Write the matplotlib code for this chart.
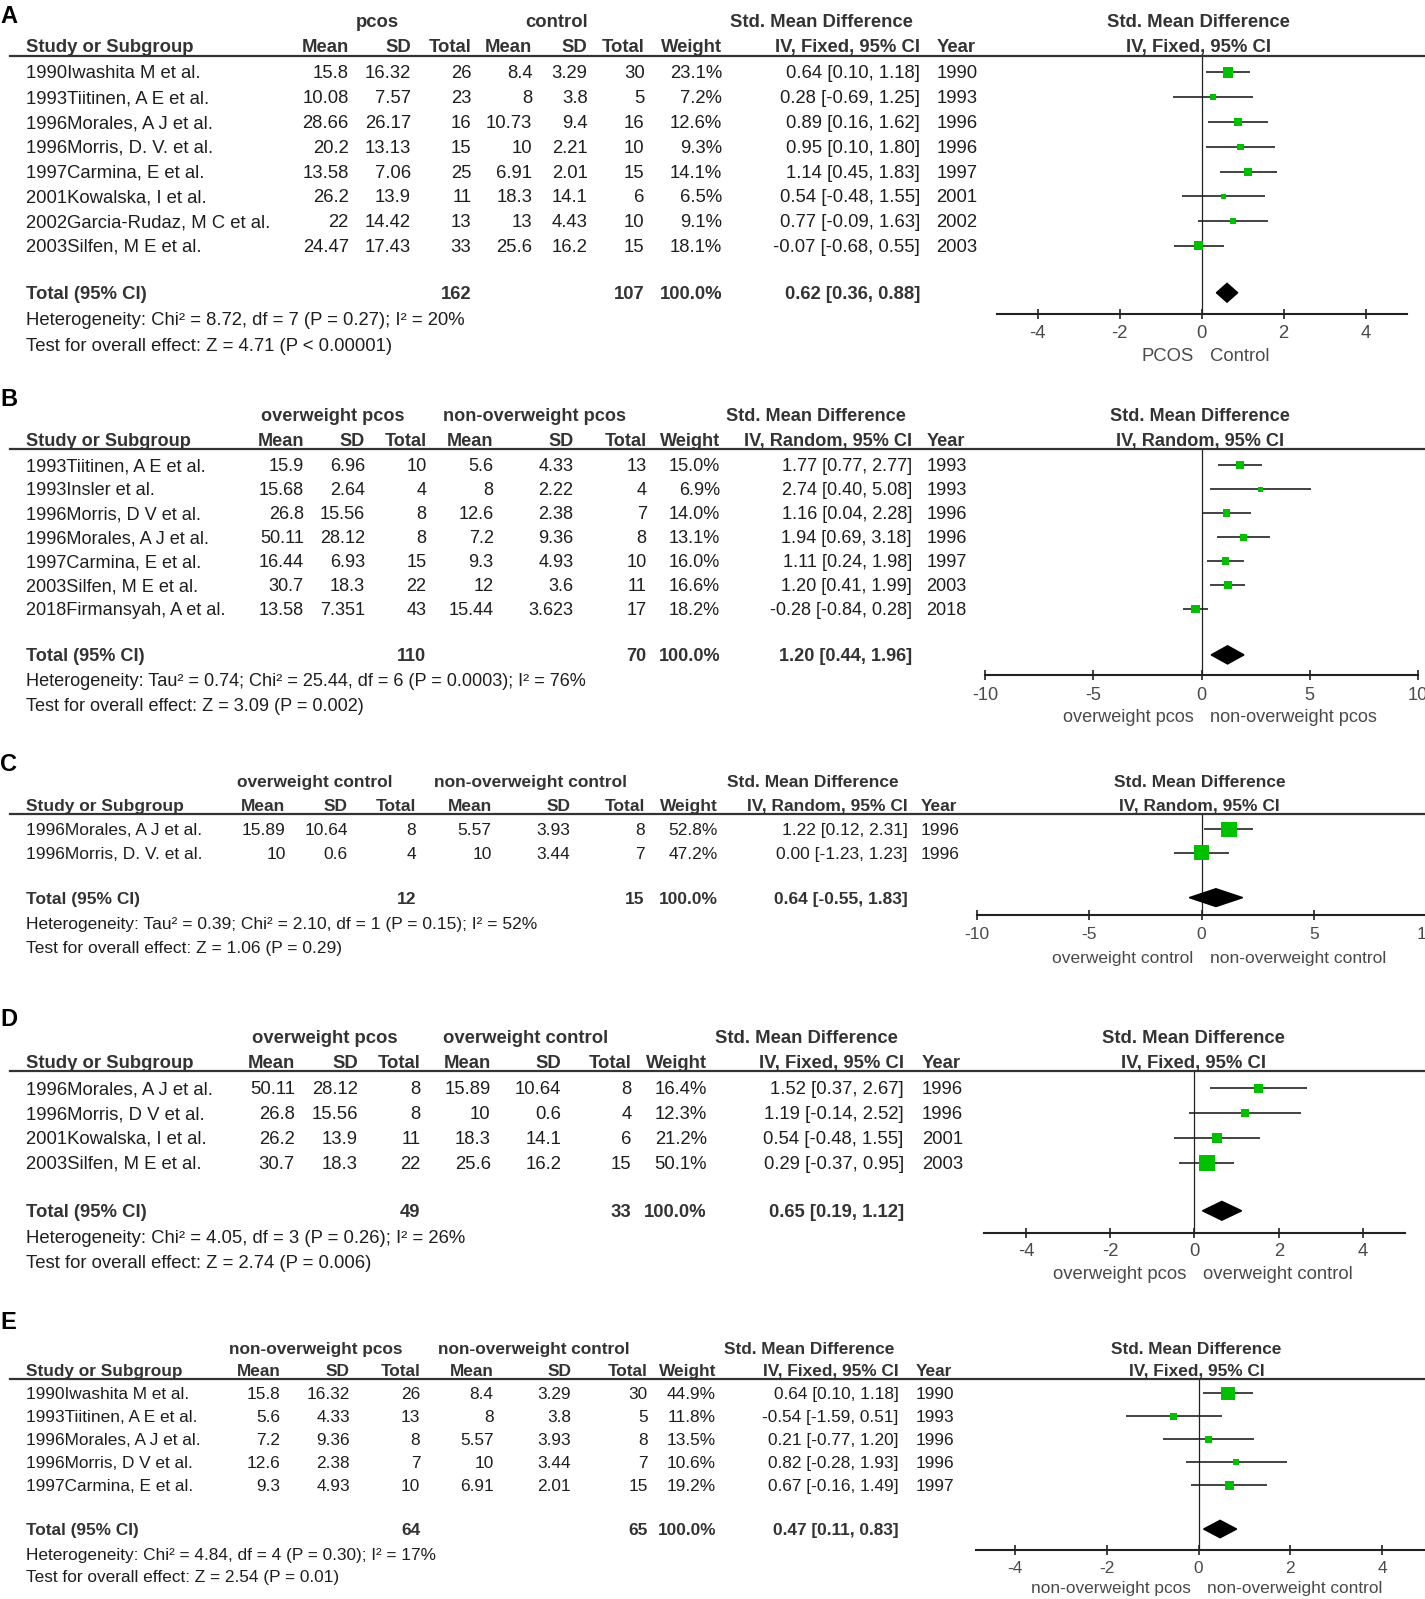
import numpy as np
import matplotlib
matplotlib.use("Agg")
import matplotlib.pyplot as plt
from matplotlib import font_manager
from matplotlib.lines import Line2D
from matplotlib.patches import Polygon

W, H = 1425, 1599
S = W / 1397.0  # layout numbers below were measured on a 1397 px wide copy

# ---------------- data ----------------
# A: pcos vs control
a_study = ["1990Iwashita M et al.", "1993Tiitinen, A E et al.", "1996Morales, A J et al.",
           "1996Morris, D. V. et al.", "1997Carmina, E et al.", "2001Kowalska, I et al.",
           "2002Garcia-Rudaz, M C et al.", "2003Silfen, M E et al."]
a_mean1 = [15.8, 10.08, 28.66, 20.2, 13.58, 26.2, 22, 24.47]
a_sd1 = [16.32, 7.57, 26.17, 13.13, 7.06, 13.9, 14.42, 17.43]
a_n1 = [26, 23, 16, 15, 25, 11, 13, 33]
a_mean2 = [8.4, 8, 10.73, 10, 6.91, 18.3, 13, 25.6]
a_sd2 = [3.29, 3.8, 9.4, 2.21, 2.01, 14.1, 4.43, 16.2]
a_n2 = [30, 5, 16, 10, 15, 6, 10, 15]
a_weight = [23.1, 7.2, 12.6, 9.3, 14.1, 6.5, 9.1, 18.1]
a_smd = [0.64, 0.28, 0.89, 0.95, 1.14, 0.54, 0.77, -0.07]
a_lo = [0.10, -0.69, 0.16, 0.10, 0.45, -0.48, -0.09, -0.68]
a_hi = [1.18, 1.25, 1.62, 1.80, 1.83, 1.55, 1.63, 0.55]
a_year = [1990, 1993, 1996, 1996, 1997, 2001, 2002, 2003]
a_total = [162, 107, 0.62, 0.36, 0.88]

# B: overweight pcos vs non-overweight pcos
b_study = ["1993Tiitinen, A E et al.", "1993Insler et al.", "1996Morris, D V et al.",
           "1996Morales, A J et al.", "1997Carmina, E et al.", "2003Silfen, M E et al.",
           "2018Firmansyah, A et al."]
b_mean1 = [15.9, 15.68, 26.8, 50.11, 16.44, 30.7, 13.58]
b_sd1 = [6.96, 2.64, 15.56, 28.12, 6.93, 18.3, 7.351]
b_n1 = [10, 4, 8, 8, 15, 22, 43]
b_mean2 = [5.6, 8, 12.6, 7.2, 9.3, 12, 15.44]
b_sd2 = [4.33, 2.22, 2.38, 9.36, 4.93, 3.6, 3.623]
b_n2 = [13, 4, 7, 8, 10, 11, 17]
b_weight = [15.0, 6.9, 14.0, 13.1, 16.0, 16.6, 18.2]
b_smd = [1.77, 2.74, 1.16, 1.94, 1.11, 1.20, -0.28]
b_lo = [0.77, 0.40, 0.04, 0.69, 0.24, 0.41, -0.84]
b_hi = [2.77, 5.08, 2.28, 3.18, 1.98, 1.99, 0.28]
b_year = [1993, 1993, 1996, 1996, 1997, 2003, 2018]
b_total = [110, 70, 1.20, 0.44, 1.96]

# C: overweight control vs non-overweight control
c_study = ["1996Morales, A J et al.", "1996Morris, D. V. et al."]
c_mean1 = [15.89, 10]
c_sd1 = [10.64, 0.6]
c_n1 = [8, 4]
c_mean2 = [5.57, 10]
c_sd2 = [3.93, 3.44]
c_n2 = [8, 7]
c_weight = [52.8, 47.2]
c_smd = [1.22, 0.00]
c_lo = [0.12, -1.23]
c_hi = [2.31, 1.23]
c_year = [1996, 1996]
c_total = [12, 15, 0.64, -0.55, 1.83]

# D: overweight pcos vs overweight control
d_study = ["1996Morales, A J et al.", "1996Morris, D V et al.", "2001Kowalska, I et al.",
           "2003Silfen, M E et al."]
d_mean1 = [50.11, 26.8, 26.2, 30.7]
d_sd1 = [28.12, 15.56, 13.9, 18.3]
d_n1 = [8, 8, 11, 22]
d_mean2 = [15.89, 10, 18.3, 25.6]
d_sd2 = [10.64, 0.6, 14.1, 16.2]
d_n2 = [8, 4, 6, 15]
d_weight = [16.4, 12.3, 21.2, 50.1]
d_smd = [1.52, 1.19, 0.54, 0.29]
d_lo = [0.37, -0.14, -0.48, -0.37]
d_hi = [2.67, 2.52, 1.55, 0.95]
d_year = [1996, 1996, 2001, 2003]
d_total = [49, 33, 0.65, 0.19, 1.12]

# E: non-overweight pcos vs non-overweight control
e_study = ["1990Iwashita M et al.", "1993Tiitinen, A E et al.", "1996Morales, A J et al.",
           "1996Morris, D V et al.", "1997Carmina, E et al."]
e_mean1 = [15.8, 5.6, 7.2, 12.6, 9.3]
e_sd1 = [16.32, 4.33, 9.36, 2.38, 4.93]
e_n1 = [26, 13, 8, 7, 10]
e_mean2 = [8.4, 8, 5.57, 10, 6.91]
e_sd2 = [3.29, 3.8, 3.93, 3.44, 2.01]
e_n2 = [30, 5, 8, 7, 15]
e_weight = [44.9, 11.8, 13.5, 10.6, 19.2]
e_smd = [0.64, -0.54, 0.21, 0.82, 0.67]
e_lo = [0.10, -1.59, -0.77, -0.28, -0.16]
e_hi = [1.18, 0.51, 1.20, 1.93, 1.49]
e_year = [1990, 1993, 1996, 1996, 1997]
e_total = [64, 65, 0.47, 0.11, 0.83]

het_text = [
    "Heterogeneity: Chi\u00b2 = 8.72, df = 7 (P = 0.27); I\u00b2 = 20%",
    "Heterogeneity: Tau\u00b2 = 0.74; Chi\u00b2 = 25.44, df = 6 (P = 0.0003); I\u00b2 = 76%",
    "Heterogeneity: Tau\u00b2 = 0.39; Chi\u00b2 = 2.10, df = 1 (P = 0.15); I\u00b2 = 52%",
    "Heterogeneity: Chi\u00b2 = 4.05, df = 3 (P = 0.26); I\u00b2 = 26%",
    "Heterogeneity: Chi\u00b2 = 4.84, df = 4 (P = 0.30); I\u00b2 = 17%",
]
test_text = [
    "Test for overall effect: Z = 4.71 (P < 0.00001)",
    "Test for overall effect: Z = 3.09 (P = 0.002)",
    "Test for overall effect: Z = 1.06 (P = 0.29)",
    "Test for overall effect: Z = 2.74 (P = 0.006)",
    "Test for overall effect: Z = 2.54 (P = 0.01)",
]
groups = [("pcos", "control"), ("overweight pcos", "non-overweight pcos"),
          ("overweight control", "non-overweight control"),
          ("overweight pcos", "overweight control"),
          ("non-overweight pcos", "non-overweight control")]
favours = [("PCOS", "Control"), ("overweight pcos", "non-overweight pcos"),
           ("overweight control", "non-overweight control"),
           ("overweight pcos", "overweight control"),
           ("non-overweight pcos", "non-overweight control")]
methods = ["Fixed", "Random", "Random", "Fixed", "Fixed"]
panel_letters = ["A", "B", "C", "D", "E"]
panel_ticks = [[-4, -2, 0, 2, 4], [-10, -5, 0, 5, 10], [-10, -5, 0, 5, 10],
               [-4, -2, 0, 2, 4], [-4, -2, 0, 2, 4]]
panel_xlim = [(-5, 5), (-10, 10), (-10, 10), (-5, 5), (-4.85, 5)]

data = [
    (a_study, a_mean1, a_sd1, a_n1, a_mean2, a_sd2, a_n2, a_weight, a_smd, a_lo, a_hi, a_year, a_total),
    (b_study, b_mean1, b_sd1, b_n1, b_mean2, b_sd2, b_n2, b_weight, b_smd, b_lo, b_hi, b_year, b_total),
    (c_study, c_mean1, c_sd1, c_n1, c_mean2, c_sd2, c_n2, c_weight, c_smd, c_lo, c_hi, c_year, c_total),
    (d_study, d_mean1, d_sd1, d_n1, d_mean2, d_sd2, d_n2, d_weight, d_smd, d_lo, d_hi, d_year, d_total),
    (e_study, e_mean1, e_sd1, e_n1, e_mean2, e_sd2, e_n2, e_weight, e_smd, e_lo, e_hi, e_year, e_total),
]

# ---------------- layout (px on the 1397 wide copy) ----------------
layout = [
    dict(letter=15, grp=21, hdr=45, rule=55, row0=71, step=24.3, total=287, het=313, test=338,
         axis=308, tick=325, fav=348, cols=[342, 403, 462, 522, 576, 632, 708, 902, 918],
         gx=[370, 546, 805], zero=1178, unit=40.2, fhdr=1175, sq=2.1, fs=13.3),
    dict(letter=390, grp=407, hdr=431, rule=440, row0=456, step=23.5, total=642, het=667, test=691,
         axis=662, tick=680, fav=702, cols=[298, 358, 418, 484, 562, 634, 706, 894, 908],
         gx=[326, 524, 800], zero=1178, unit=21.2, fhdr=1176, sq=1.9, fs=13.1),
    dict(letter=748, grp=766, hdr=789, rule=798, row0=813, step=23.0, total=880, het=905, test=928,
         axis=897, tick=915, fav=938, cols=[280, 341, 408, 482, 559, 632, 704, 890, 903],
         gx=[309, 520, 797], zero=1178, unit=22.0, fhdr=1176, sq=2.1, fs=12.5),
    dict(letter=998, grp=1017, hdr=1041, rule=1050, row0=1067, step=24.3, total=1187, het=1213,
         test=1237, axis=1209, tick=1225, fav=1248, cols=[289, 351, 412, 481, 550, 619, 693, 886, 904],
         gx=[318, 515, 791], zero=1171, unit=41.3, fhdr=1170, sq=2.2, fs=13.3),
    dict(letter=1295, grp=1321, hdr=1343, rule=1352, row0=1366, step=22.5, total=1499, het=1523,
         test=1545, axis=1520, tick=1537, fav=1556, cols=[275, 343, 412, 484, 560, 635, 702, 881, 898],
         gx=[310, 523, 793], zero=1175, unit=45.0, fhdr=1173, sq=1.95, fs=12.4),
]

FAM = "Liberation Sans"
TXT = "#1e1e1e"
HDR = "#333333"
GREY = "#4a4a4a"
GREEN = "#00c000"
DY = 1.5  # matplotlib centres a little high compared with the scan


def fx(x):
    return x * S / W


def fy(y):
    return 1 - y * S / H


def fmt(v):
    return f"{v:g}"


fig = plt.figure(figsize=(W / 100, H / 100), dpi=100)

for k in range(5):
    lay = layout[k]
    study, m1, s1, n1, m2, s2, n2, wt, smd, lo, hi, year, tot = data[k]
    fs = lay["fs"]

    def put(x, y, s, ha="left", bold=False, color=TXT, size=None):
        fig.text(fx(x), fy(y + DY), s, ha=ha, va="center", fontsize=size or fs,
                 fontweight="bold" if bold else "normal", family=FAM, color=color)

    # panel letter
    put(0, lay["letter"], panel_letters[k], bold=True, color="black", size=17)

    # header rows
    cols = lay["cols"]
    put(lay["gx"][0], lay["grp"], groups[k][0], ha="center", bold=True, color=HDR)
    put(lay["gx"][1], lay["grp"], groups[k][1], ha="center", bold=True, color=HDR)
    put(lay["gx"][2], lay["grp"], "Std. Mean Difference", ha="center", bold=True, color=HDR)
    put(lay["fhdr"], lay["grp"], "Std. Mean Difference", ha="center", bold=True, color=HDR)
    ci_head = f"IV, {methods[k]}, 95% CI"
    put(25, lay["hdr"], "Study or Subgroup", bold=True, color=HDR)
    for c, lab in zip(cols[:7], ["Mean", "SD", "Total", "Mean", "SD", "Total", "Weight"]):
        put(c, lay["hdr"], lab, ha="right", bold=True, color=HDR)
    put(cols[7], lay["hdr"], ci_head, ha="right", bold=True, color=HDR)
    put(cols[8], lay["hdr"], "Year", bold=True, color=HDR)
    put(lay["fhdr"], lay["hdr"], ci_head, ha="center", bold=True, color=HDR)

    fig.add_artist(Line2D([fx(10), fx(1397)], [fy(lay["rule"])] * 2, color="#333333", lw=1.6))

    # study rows
    for i in range(len(study)):
        y = lay["row0"] + i * lay["step"]
        put(25, y, study[i])
        vals = [fmt(m1[i]), fmt(s1[i]), str(n1[i]), fmt(m2[i]), fmt(s2[i]), str(n2[i]),
                f"{wt[i]:.1f}%", f"{smd[i]:.2f} [{lo[i]:.2f}, {hi[i]:.2f}]"]
        for c, v in zip(cols[:8], vals):
            put(c, y, v, ha="right")
        put(cols[8], y, str(year[i]))

    # total row
    ty = lay["total"]
    put(25, ty, "Total (95% CI)", bold=True, color=HDR)
    put(cols[2], ty, str(tot[0]), ha="right", bold=True, color=HDR)
    put(cols[5], ty, str(tot[1]), ha="right", bold=True, color=HDR)
    put(cols[6], ty, "100.0%", ha="right", bold=True, color=HDR)
    put(cols[7], ty, f"{tot[2]:.2f} [{tot[3]:.2f}, {tot[4]:.2f}]", ha="right", bold=True, color=HDR)
    put(25, lay["het"], het_text[k])
    put(25, lay["test"], test_text[k])

    # forest plot
    x0, x1 = panel_xlim[k]
    z, u = lay["zero"], lay["unit"]
    lpx, rpx = z + x0 * u, z + x1 * u
    ax = fig.add_axes([fx(lpx), fy(lay["axis"]), fx(rpx) - fx(lpx), fy(lay["rule"]) - fy(lay["axis"])])
    ax.patch.set_visible(False)
    ax.set_xlim(x0, x1)
    step, r0 = lay["step"], lay["row0"]
    ax.set_ylim((lay["axis"] - r0) / step, (lay["rule"] - r0) / step)
    rows = np.arange(len(study))
    ax.axvline(0, color="#222222", lw=0.9, zorder=1)
    ax.hlines(rows, lo, hi, color="#222222", lw=1.2, zorder=2)
    side_pt = lay["sq"] * np.sqrt(np.array(wt)) * S * 0.72
    ax.scatter(smd, rows, marker="s", s=side_pt ** 2, color=GREEN, linewidths=0, zorder=3)
    trow = (ty - r0) / step
    h = 0.38
    ax.add_patch(Polygon([(tot[3], trow), (tot[2], trow - h), (tot[4], trow), (tot[2], trow + h)],
                         closed=True, color="black", zorder=3))
    for sp in ["top", "left", "right"]:
        ax.spines[sp].set_visible(False)
    ax.spines["bottom"].set_linewidth(1.5)
    ax.spines["bottom"].set_color("#222222")
    ax.set_yticks([])
    ax.set_xticks(panel_ticks[k])
    ax.set_xticklabels([str(t) for t in panel_ticks[k]], family=FAM, fontsize=fs, color=GREY)
    tl = 7.0
    pad = (lay["tick"] - lay["axis"] - 6.5) * S * 0.72 - tl / 2
    ax.tick_params(axis="x", direction="inout", length=tl, width=1.2, color="#222222", pad=pad)

    put(z - 8, lay["fav"], favours[k][0], ha="right", color=GREY)
    put(z + 8, lay["fav"], favours[k][1], ha="left", color=GREY)

fig.savefig("out.png", dpi=100)
